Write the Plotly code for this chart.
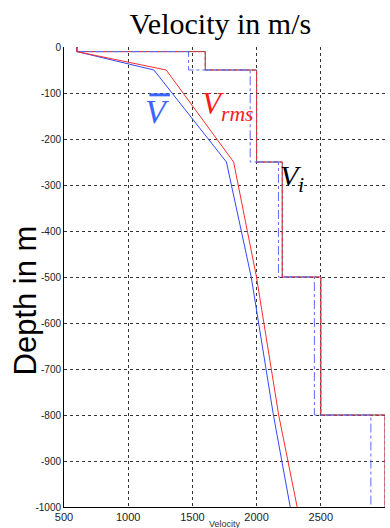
import plotly.graph_objects as go

# Layer model
layer_depth = [0, -10, -50, -250, -500, -800, -1000]
v_interval = [600, 1600, 2000, 2200, 2500, 3000]
v_interval_est = [600, 1470, 1950, 2170, 2450, 2890]
v_avg = [600, 600, 1200, 1765, 1958, 2131, 2262]
v_rms = [600, 600, 1296, 1821, 1999, 2172, 2316]
curve_depth = [0, -10, -50, -250, -500, -800, -1000]

x_ticks = [500, 1000, 1500, 2000, 2500, 3000]
y_ticks = [0, -100, -200, -300, -400, -500, -600, -700, -800, -900, -1000]


def step_xy(vals, depths):
    xs, ys = [], []
    for i, v in enumerate(vals):
        xs += [v, v]
        ys += [depths[i], depths[i + 1]]
    return xs, ys


vi_x, vi_y = step_xy(v_interval, layer_depth)
ve_x, ve_y = step_xy(v_interval_est, layer_depth)
ve_x, ve_y = ve_x[1:], ve_y[1:]

RED = "#ff2b2b"
BLUE = "#3247ff"

fig = go.Figure()
fig.add_trace(go.Scatter(x=vi_x, y=vi_y, mode="lines",
                         line=dict(color="#555", width=1)))
fig.add_trace(go.Scatter(x=vi_x, y=vi_y, mode="lines",
                         line=dict(color="#7a88ff", width=1, dash="2px,4px")))
fig.add_trace(go.Scatter(x=vi_x, y=vi_y, mode="lines",
                         line=dict(color=RED, width=1, dash="4px,2px")))
fig.add_trace(go.Scatter(x=ve_x, y=ve_y, mode="lines",
                         line=dict(color="#5a6cff", width=1, dash="dashdot")))
fig.add_trace(go.Scatter(x=v_avg, y=curve_depth, mode="lines",
                         line=dict(color=BLUE, width=1)))
fig.add_trace(go.Scatter(x=v_rms, y=curve_depth, mode="lines",
                         line=dict(color=RED, width=1)))

serif = "Liberation Serif, Times New Roman, serif"
annotations = [
    dict(x=1232, y=-141, xref="x", yref="y", text="<i>V</i>", showarrow=False,
         font=dict(family=serif, size=34, color="#3a66ff")),
    dict(x=1559, y=-128, xref="x", yref="y", xanchor="left",
         text="<i>V<sub>rms</sub></i>", showarrow=False,
         font=dict(family=serif, size=31, color="#ff1a1a")),
    dict(x=2170, y=-285, xref="x", yref="y", xanchor="left",
         text="<i>V<sub>i</sub></i>", showarrow=False,
         font=dict(family=serif, size=30, color="black")),
    dict(x=-0.12, y=0.45, xref="paper", yref="paper", text="Depth in m",
         textangle=-90, showarrow=False, xanchor="center", yanchor="middle",
         font=dict(family="Liberation Sans, Arial, sans-serif", size=31, color="black")),
    dict(x=0.5, y=-0.038, xref="paper", yref="paper", yanchor="middle", text="Velocity",
         showarrow=False,
         font=dict(family="Liberation Sans, Arial, sans-serif", size=9, color="#333")),
]

shapes = [
    dict(type="line", xref="x", yref="y", x0=1165, x1=1325, y0=-104, y1=-104,
         line=dict(color="#3a66ff", width=3)),
]

fig.update_layout(
    width=390, height=528,
    margin=dict(l=64, r=5, t=47, b=21),
    paper_bgcolor="white", plot_bgcolor="white",
    showlegend=False,
    title=dict(text="Velocity in m/s", x=0.565, xanchor="center", y=0.955, yanchor="middle",
               font=dict(family=serif, size=30, color="black")),
    annotations=annotations,
    shapes=shapes,
    xaxis=dict(range=[500, 3000], tickvals=x_ticks, ticktext=[str(t) for t in x_ticks],
               showgrid=True, gridcolor="#333", griddash="dot", gridwidth=1,
               showline=True, linecolor="black", linewidth=1, mirror=False,
               zeroline=False, ticks="", tickfont=dict(family="Liberation Sans, Arial", size=11, color="#222")),
    yaxis=dict(range=[-1000, 0], tickvals=y_ticks, ticktext=[str(t) for t in y_ticks],
               showgrid=True, gridcolor="#333", griddash="dot", gridwidth=1,
               showline=True, linecolor="black", linewidth=1, mirror=False,
               zeroline=False, ticks="", tickfont=dict(family="Liberation Sans, Arial", size=10, color="#222")),
)

fig.write_html("out.html")
